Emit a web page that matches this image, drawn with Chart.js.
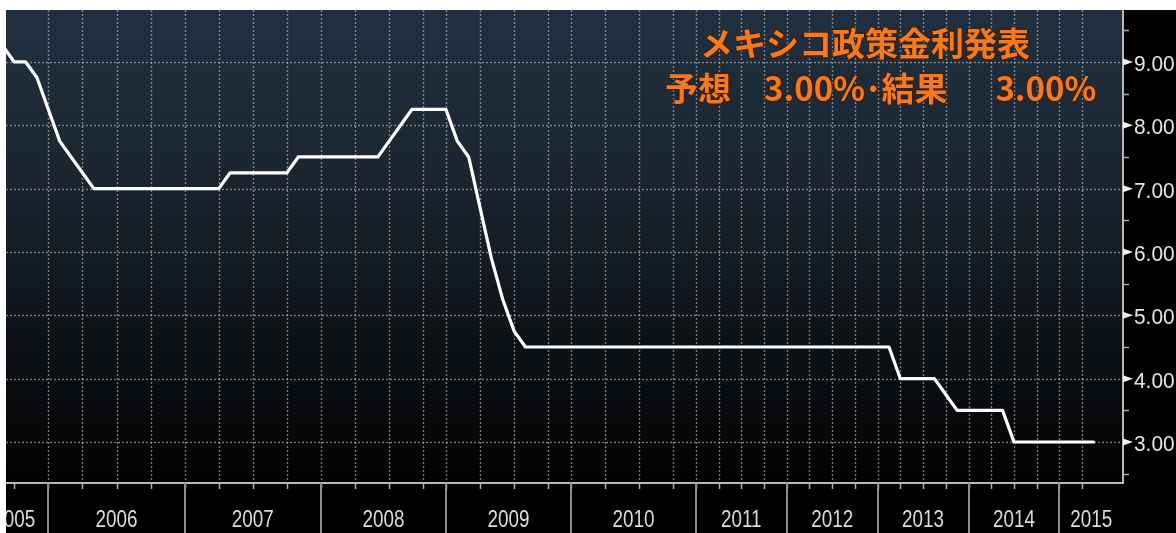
<!DOCTYPE html>
<html>
<head>
<meta charset="utf-8">
<script src="https://cdn.jsdelivr.net/npm/chart.js@4.4.1/dist/chart.umd.min.js"></script>
<style>
html,body{margin:0;padding:0;background:#fff;overflow:hidden}
#wrap{width:1176px;height:533px;position:relative}
</style>
</head>
<body>
<div id="wrap"><canvas id="c" width="1176" height="533"></canvas></div>
<script>
// ---- data (one value per policy observation; index of first value = firstObs) ----
const firstObs = -1;
const rates = [
  9.5, 9.25, 9.0, 9.0, 8.75, 8.25, 7.75, 7.5, 7.25,
  7.0, 7.0, 7.0, 7.0, 7.0, 7.0, 7.0, 7.0, 7.0, 7.0, 7.0, 7.0,
  7.25, 7.25, 7.25, 7.25, 7.25, 7.25,
  7.5, 7.5, 7.5, 7.5, 7.5, 7.5, 7.5, 7.5,
  7.75, 8.0, 8.25, 8.25, 8.25, 8.25,
  7.75, 7.5, 6.7, 5.9, 5.25, 4.75,
  4.5, 4.5, 4.5, 4.5, 4.5, 4.5, 4.5, 4.5, 4.5, 4.5, 4.5,
  4.5, 4.5, 4.5, 4.5, 4.5, 4.5, 4.5, 4.5, 4.5, 4.5, 4.5,
  4.5, 4.5, 4.5, 4.5, 4.5, 4.5, 4.5, 4.5, 4.5, 4.5, 4.5,
  4.0, 4.0, 4.0, 4.0, 3.75,
  3.5, 3.5, 3.5, 3.5, 3.5,
  3.0, 3.0, 3.0, 3.0, 3.0, 3.0, 3.0, 3.0
];
// year labels and the observation index where each year starts
const yearNames  = ['2005','2006','2007','2008','2009','2010','2011','2012','2013','2014','2015'];
const yearStarts = [-2, 4, 16, 28, 39, 50, 61, 69, 77, 85, 93];
// quarterly tick positions (observation index)
const xTicks = [1,4,7,10,13,16,19,22,25,28,31,34,37,39,42,45,48,50,53,56,59,
                61,63,65,67,69,71,73,75,77,79,81,83,85,87,89,91,93,95];
const yTicks = [3,4,5,6,7,8,9];
const yMinorTicks = [2.5,3.5,4.5,5.5,6.5,7.5,8.5,9.5];
const xRange = [0.27, 98.6];
const yRange = [2.353, 9.82];
const titleLine1 = 'メキシコ政策金利発表';
const titleLine2 = '予想　3.00%･結果　  3.00%';

const W = 1176, H = 533;
const points = rates.map((v, i) => ({x: firstObs + i, y: v}));

const deco = {
  id: 'deco',
  beforeDraw(chart) {
    const {ctx, chartArea: a} = chart;
    const xs = chart.scales.x, ys = chart.scales.y;
    ctx.save();
    ctx.fillStyle = '#ffffff';
    ctx.fillRect(0, 0, W, H);
    ctx.fillStyle = '#000000';
    ctx.fillRect(a.left, a.top, W - a.left, H - a.top);
    const g = ctx.createLinearGradient(0, a.top, 0, a.bottom);
    g.addColorStop(0, '#213040');
    g.addColorStop(0.35, '#1a2530');
    g.addColorStop(0.7, '#0d1116');
    g.addColorStop(1, '#020202');
    ctx.fillStyle = g;
    ctx.fillRect(a.left, a.top, a.right - a.left, a.bottom - a.top);
    // dotted grid
    ctx.strokeStyle = 'rgba(185,190,196,0.62)';
    ctx.lineWidth = 1.4;
    ctx.setLineDash([2, 2]);
    xTicks.forEach(v => {
      if (v < yearStarts[1]) return;
      const px = Math.round(xs.getPixelForValue(v)) + 0.5;
      ctx.beginPath(); ctx.moveTo(px, a.top); ctx.lineTo(px, a.bottom); ctx.stroke();
    });
    yTicks.forEach(v => {
      const py = Math.round(ys.getPixelForValue(v)) + 0.5;
      ctx.beginPath(); ctx.moveTo(a.left, py); ctx.lineTo(a.right, py); ctx.stroke();
    });
    ctx.setLineDash([]);
    ctx.restore();
  },
  afterDatasetsDraw(chart) {
    const {ctx, chartArea: a} = chart;
    const xs = chart.scales.x, ys = chart.scales.y;
    ctx.save();
    // axis lines
    ctx.strokeStyle = '#b9b9b9';
    ctx.lineWidth = 2;
    ctx.beginPath();
    ctx.moveTo(a.left, a.bottom); ctx.lineTo(a.right, a.bottom); ctx.lineTo(a.right, a.top);
    ctx.stroke();
    // x ticks
    ctx.lineWidth = 1.5;
    ctx.strokeStyle = '#b0b0b0';
    xTicks.forEach(v => {
      const px = Math.round(xs.getPixelForValue(v)) + 0.5;
      ctx.beginPath(); ctx.moveTo(px, a.bottom); ctx.lineTo(px, a.bottom + 6); ctx.stroke();
    });
    // year separators
    ctx.strokeStyle = '#8e8e8e';
    ctx.lineWidth = 2;
    yearStarts.forEach(v => {
      if (v < xs.min) return;
      const px = Math.round(xs.getPixelForValue(v));
      ctx.beginPath(); ctx.moveTo(px, a.bottom); ctx.lineTo(px, H); ctx.stroke();
    });
    // year labels
    ctx.save();
    ctx.beginPath(); ctx.rect(a.left, a.bottom + 1, W - a.left, H - a.bottom); ctx.clip();
    ctx.fillStyle = '#dcdcdc';
    ctx.font = '23px "Liberation Sans", Arial, sans-serif';
    ctx.textAlign = 'center';
    ctx.textBaseline = 'middle';
    yearNames.forEach((name, i) => {
      const s = yearStarts[i];
      const e = i + 1 < yearStarts.length ? yearStarts[i + 1] : xs.max;
      const cx = xs.getPixelForValue((s + e) / 2);
      ctx.save();
      ctx.translate(cx, 521);
      ctx.scale(0.82, 1);
      ctx.fillText(name, 0, 0);
      ctx.restore();
    });
    ctx.restore();
    // y minor ticks
    ctx.strokeStyle = '#a8a8a8';
    ctx.lineWidth = 1.5;
    yMinorTicks.forEach(v => {
      const py = Math.round(ys.getPixelForValue(v)) + 0.5;
      ctx.beginPath(); ctx.moveTo(a.right, py); ctx.lineTo(a.right + 6, py); ctx.stroke();
    });
    // y major ticks (wedges) and labels
    ctx.font = '22px "Liberation Sans", Arial, sans-serif';
    ctx.textAlign = 'left';
    ctx.textBaseline = 'middle';
    yTicks.forEach(v => {
      const py = ys.getPixelForValue(v);
      ctx.fillStyle = '#f2f2f2';
      ctx.beginPath();
      ctx.moveTo(a.right, py - 3.5); ctx.lineTo(a.right + 10, py); ctx.lineTo(a.right, py + 3.5);
      ctx.closePath(); ctx.fill();
      ctx.fillStyle = '#e6e6e6';
      ctx.save();
      ctx.translate(a.right + 11, py + 3);
      ctx.scale(0.95, 1);
      ctx.fillText(v.toFixed(2), 0, 0);
      ctx.restore();
    });
    // title
    ctx.font = 'bold 33px "Noto Sans CJK JP", sans-serif';
    ctx.textAlign = 'left';
    ctx.textBaseline = 'middle';
    ctx.lineJoin = 'round';
    ctx.strokeStyle = 'rgba(70,25,0,0.7)';
    ctx.lineWidth = 2.5;
    ctx.fillStyle = '#f47a1f';
    ctx.strokeText(titleLine1, 700, 43);
    ctx.fillText(titleLine1, 700, 43);
    ctx.strokeText(titleLine2, 665, 88);
    ctx.fillText(titleLine2, 665, 88);
    ctx.restore();
  }
};

new Chart(document.getElementById('c'), {
  type: 'line',
  data: {
    datasets: [{
      data: points,
      borderColor: '#ffffff',
      borderWidth: 3.2,
      pointRadius: 0,
      tension: 0,
      borderJoinStyle: 'round',
      borderCapStyle: 'round',
      fill: false
    }]
  },
  options: {
    responsive: false,
    animation: false,
    devicePixelRatio: 1,
    layout: {padding: {left: 6, top: 10, right: 0, bottom: 0}},
    plugins: {legend: {display: false}, tooltip: {enabled: false}, title: {display: false}},
    scales: {
      x: {
        type: 'linear', min: xRange[0], max: xRange[1],
        grid: {display: false}, border: {display: false},
        ticks: {display: false},
        afterFit(s) { s.height = 50; }
      },
      y: {
        type: 'linear', position: 'right', min: yRange[0], max: yRange[1],
        grid: {display: false}, border: {display: false},
        ticks: {display: false},
        afterFit(s) { s.width = 53; }
      }
    }
  },
  plugins: [deco]
});
</script>
</body>
</html>
